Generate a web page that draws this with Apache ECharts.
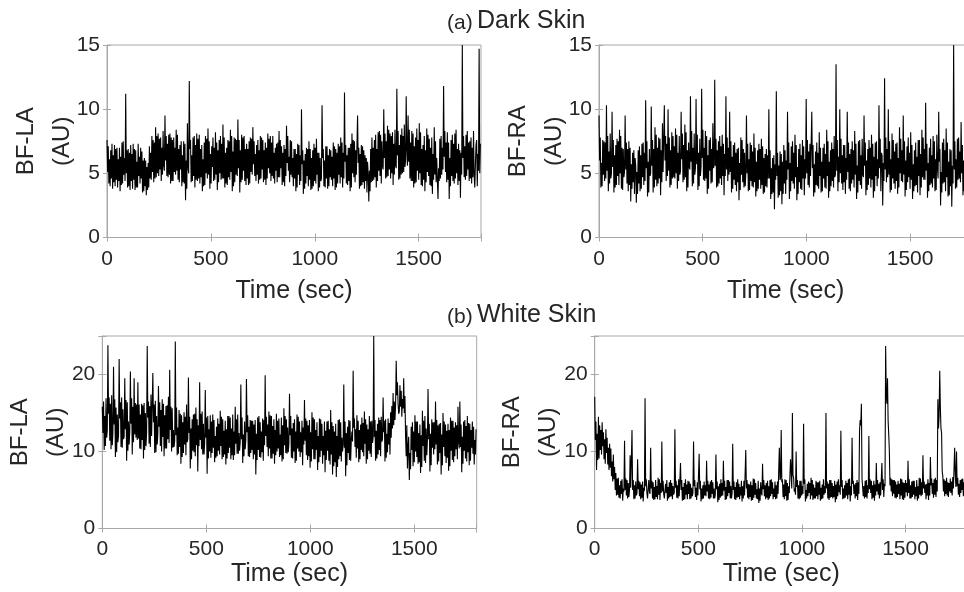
<!DOCTYPE html>
<html><head><meta charset="utf-8">
<script src="https://cdn.jsdelivr.net/npm/echarts@6/dist/echarts.min.js"></script>
<style>html,body{margin:0;padding:0;background:#fff;overflow:hidden}#c{width:990px;height:592px}</style>
</head><body><div id="c"></div>
<script>
// Readings at a 3 s spacing, split in three interleaved lists per record:
// "_A" holds t = 0, 9, 18, ...; "_B" holds t = 3, 12, 21, ...; "_C" holds t = 6, 15, 24, ...
const sampleStep = 9;
const subOffsets = [0, 3, 6];

// (a) Dark skin, BF-LA
const darkLA_A = [
7.6,4.2,6.8,3.8,7.2,4.5,6.1,3.6,7.4,4.9,11.2,3.9,6.6,4.4,7.3,3.7,5.9,4.8,7.0,3.5,
6.2,3.3,5.8,4.6,7.9,4.3,8.6,5.0,7.7,4.4,8.3,9.5,4.8,8.0,4.2,7.6,5.1,8.4,4.5,7.2,
4.0,7.5,2.9,8.9,12.2,4.3,7.8,3.9,8.1,4.6,6.9,3.6,7.4,5.0,8.5,3.8,7.1,4.4,8.2,3.7,
7.6,4.5,8.8,3.9,7.0,4.7,8.4,3.6,7.8,4.9,9.2,3.5,8.0,5.2,6.9,4.6,7.5,5.1,8.6,4.8,
7.2,4.2,7.9,5.3,6.8,4.1,8.1,5.0,7.4,4.6,7.0,4.3,8.3,5.4,6.6,4.0,8.7,5.2,7.6,4.7,
6.9,3.6,7.3,4.1,10.0,3.4,6.5,4.8,7.5,3.7,6.8,4.4,7.7,3.6,6.2,10.3,4.0,7.1,3.8,6.9,
4.5,7.4,3.7,6.6,4.9,7.8,3.9,11.3,4.2,7.0,3.6,8.1,4.7,6.8,9.5,3.8,7.2,4.3,6.4,3.5,
2.8,6.9,4.4,7.6,3.9,8.2,4.8,7.5,10.0,4.6,8.7,5.3,7.9,4.1,8.4,11.6,4.5,8.0,5.0,8.8,
11.0,9.5,4.6,8.3,3.9,7.8,5.2,8.9,4.1,7.2,3.6,8.5,4.8,7.0,3.4,8.6,4.3,3.0,7.7,4.9,
11.8,5.1,8.2,3.0,7.6,4.4,8.1,5.0,7.3,3.1,15.0,4.7,8.0,5.3,7.5,4.2,8.3,5.6,4.0,14.7
];
const darkLA_B = [
5.1,6.1,4.6,6.4,4.0,7.0,4.4,6.3,4.2,6.2,5.0,6.9,3.7,6.5,4.5,6.8,3.9,6.3,4.6,6.0,
4.0,5.5,3.9,6.6,5.1,7.4,4.7,8.1,5.3,7.0,5.6,6.0,7.3,4.9,7.8,4.4,7.0,5.2,6.9,5.3,
6.4,4.2,6.0,5.5,6.9,6.4,4.8,7.2,4.4,8.0,4.7,6.1,4.1,7.7,4.9,6.5,5.5,7.0,4.9,6.8,
5.0,7.3,4.6,6.6,4.1,7.5,5.1,6.7,4.3,7.6,5.4,6.8,4.5,7.9,4.1,6.9,4.2,7.7,5.7,6.5,
4.9,6.8,4.6,7.6,4.5,7.0,5.4,7.9,4.8,6.6,5.2,7.4,4.7,7.1,4.3,6.9,5.8,6.3,4.9,6.2,
4.6,6.5,4.9,6.4,5.7,6.0,4.2,6.9,4.5,6.2,4.0,7.0,4.9,6.6,4.4,6.2,6.0,4.6,6.4,4.7,
6.3,4.6,6.9,4.2,7.1,4.7,6.6,5.9,6.4,4.4,7.3,5.0,7.5,4.9,5.8,6.5,4.1,6.8,4.4,5.9,
5.2,4.3,7.0,4.7,6.9,5.2,8.0,5.6,6.2,7.5,4.8,8.1,5.0,7.3,5.6,6.4,7.2,4.9,7.9,5.5,
6.8,5.9,7.4,4.4,7.1,4.3,7.6,5.0,6.9,4.5,6.8,5.1,7.7,4.0,6.5,4.9,6.2,5.4,4.6,7.0,
6.3,7.4,4.5,6.2,4.8,7.3,4.6,6.9,4.4,6.6,6.2,7.1,4.8,7.4,4.6,7.0,4.9,7.2,6.5,5.0
];
const darkLA_C = [
7.1,4.0,7.3,4.3,6.9,3.9,7.0,4.1,7.5,4.4,6.8,4.0,7.2,3.8,6.9,3.9,7.3,4.2,6.7,3.6,
6.0,3.7,7.1,4.5,7.6,4.6,7.9,4.8,7.8,4.9,5.2,7.9,4.7,8.1,4.4,7.8,4.9,8.0,4.3,7.5,
4.3,7.3,3.8,5.0,7.6,4.4,7.9,4.5,7.7,4.2,7.2,4.0,7.9,4.6,7.5,4.2,7.8,4.5,7.4,4.3,
7.9,4.6,7.8,4.2,7.6,4.5,7.9,4.0,7.7,4.8,7.6,4.3,7.8,4.4,7.3,4.1,7.8,4.9,7.5,4.4,
7.6,4.5,7.8,4.3,7.4,4.6,7.7,4.4,7.9,4.2,7.3,4.7,7.6,4.1,7.2,4.8,7.9,4.3,7.5,4.0,
6.9,3.9,7.2,4.4,6.8,3.8,7.0,4.0,6.9,3.8,7.3,4.2,6.6,3.9,4.6,6.9,3.9,7.1,4.0,6.8,
4.0,7.1,3.9,7.3,4.2,7.4,4.6,7.2,4.1,7.0,3.9,7.6,4.3,5.0,7.0,4.0,7.1,3.8,6.2,5.0,
3.6,7.8,4.5,8.0,4.4,8.3,4.2,5.3,8.1,4.7,8.4,4.6,8.2,4.9,5.4,8.3,4.6,8.5,5.1,6.0,
5.6,8.4,4.4,8.1,4.2,8.5,4.5,8.2,4.0,7.9,4.3,8.0,4.1,7.8,4.5,7.5,6.3,4.4,7.9,5.3,
8.3,4.3,7.4,4.0,8.0,4.2,8.4,4.1,6.8,4.9,7.9,4.5,8.3,4.4,7.8,4.7,3.9,7.6,5.2,7.3
];

// (a) Dark skin, BF-RA
const darkRA_A = [
9.5,3.9,7.6,4.4,10.3,3.6,8.1,9.8,3.5,7.2,4.8,8.4,3.8,6.9,9.5,4.2,7.5,2.8,6.6,3.4,
2.7,6.8,3.6,7.3,4.1,10.7,3.2,6.9,10.2,3.5,8.6,4.0,7.8,3.3,8.9,10.3,4.4,10.0,3.9,8.2,
4.7,8.5,3.8,7.9,9.8,4.3,8.8,3.6,7.4,11.0,4.0,8.1,10.8,3.7,7.7,11.6,4.5,8.3,3.4,7.6,
4.2,8.9,12.3,3.9,7.5,4.6,8.0,3.3,11.0,4.4,9.8,3.5,7.2,4.1,6.9,2.9,7.8,4.3,6.6,9.5,
3.6,7.4,4.0,8.1,3.2,6.8,4.5,7.7,3.4,6.5,3.9,10.0,3.0,6.2,2.2,11.4,3.1,6.7,2.6,7.2,
3.4,9.8,3.0,7.1,4.2,8.0,2.9,6.9,3.8,7.6,3.3,10.8,4.1,7.3,9.8,3.2,6.7,4.0,8.2,3.5,
7.0,3.9,8.4,3.1,6.8,4.4,7.9,13.5,3.6,10.0,4.2,7.2,3.4,9.8,3.8,6.9,4.5,8.3,3.0,7.5,
4.1,7.7,9.5,3.3,6.9,4.6,8.0,3.1,7.4,4.0,10.3,3.6,2.5,12.4,4.3,10.0,3.5,8.1,4.2,7.3,
3.4,8.6,4.4,9.5,3.2,7.1,4.7,8.2,3.0,6.8,4.1,7.6,3.3,8.4,4.5,10.5,3.1,7.0,4.2,7.9,
3.6,8.0,9.8,2.5,7.4,4.3,8.5,3.2,6.9,2.4,15.0,3.8,7.7,4.6,9.0,3.3,7.6,4.4,8.1,3.7
];
const darkRA_B = [
6.0,5.8,4.9,7.4,5.2,6.7,4.6,5.5,6.4,4.1,7.5,5.0,7.0,4.7,5.3,6.9,4.1,5.7,4.3,6.2,
5.1,4.2,6.4,4.7,6.6,5.4,5.9,4.8,5.6,6.9,4.5,7.0,4.6,6.8,5.1,6.0,7.3,5.2,6.8,4.6,
7.1,5.0,6.6,4.9,6.1,7.2,4.7,6.8,5.5,5.9,7.0,4.9,5.7,6.6,4.8,6.2,7.0,4.6,6.4,5.2,
6.9,5.4,5.6,6.8,4.2,7.1,4.8,6.5,5.3,7.0,5.1,6.3,4.5,6.6,4.3,5.8,4.9,6.9,4.0,5.0,
6.1,4.4,6.7,4.3,5.9,3.8,6.9,4.1,6.2,4.0,6.4,4.6,5.4,3.5,5.7,4.8,5.6,3.6,5.9,4.2,
6.0,5.3,5.8,4.4,6.6,4.7,5.5,4.3,6.4,4.6,6.1,5.0,6.7,4.8,5.4,5.7,4.1,6.6,4.8,5.9,
4.6,6.5,4.8,5.9,4.0,6.9,4.7,5.2,6.3,5.0,6.4,4.3,6.2,5.1,6.5,4.2,6.8,4.9,5.6,4.4,
6.4,4.9,5.6,6.0,4.1,7.0,4.5,6.3,4.8,6.1,5.4,6.6,5.8,5.3,6.9,4.9,6.1,4.6,6.7,4.4,
6.2,5.0,6.8,4.9,6.0,4.3,6.6,4.5,5.7,4.0,6.3,4.8,6.5,4.7,6.9,5.2,5.8,4.1,6.4,4.6,
6.1,5.4,5.9,5.1,4.2,6.8,4.7,5.9,4.0,5.6,5.3,6.1,4.5,6.7,5.0,6.0,4.6,6.5,4.9,6.2
];
const darkRA_C = [
7.8,4.0,7.5,4.6,7.9,4.2,5.0,7.6,3.9,7.7,4.1,7.9,3.7,5.1,7.4,3.6,7.0,3.8,6.8,5.6,
3.4,7.1,3.8,7.4,4.4,7.5,3.5,5.0,7.6,3.9,8.0,4.2,7.7,4.3,5.1,7.9,4.8,7.8,4.1,7.9,
4.6,8.0,4.4,5.2,8.1,4.5,8.2,3.9,5.3,8.3,4.2,5.4,8.0,4.0,5.5,8.4,4.4,7.9,3.8,7.8,
4.3,5.6,7.7,4.0,7.9,4.1,7.3,4.8,7.8,4.9,7.5,3.8,7.4,3.6,7.0,3.7,7.6,3.9,5.0,7.3,
3.7,7.2,3.9,7.0,3.6,7.3,3.8,7.1,3.5,6.9,4.6,6.8,3.4,6.4,4.5,6.6,3.3,6.5,3.4,6.8,
4.5,7.4,3.6,7.5,3.8,7.2,3.4,7.3,3.7,7.1,4.6,7.6,3.9,4.8,7.2,3.5,7.4,3.8,7.0,3.6,
7.3,3.8,7.5,3.6,7.4,3.9,4.9,7.6,4.3,7.7,3.7,7.2,4.5,7.4,3.6,7.5,3.9,7.3,3.5,7.6,
3.8,4.7,7.4,3.7,7.6,3.9,7.3,3.6,7.5,4.6,7.7,6.4,4.4,7.8,4.7,7.5,3.7,7.6,3.8,7.4,
3.9,7.7,4.3,7.5,3.7,7.8,3.8,7.2,3.6,7.4,3.5,7.6,3.9,7.8,4.5,7.3,3.6,7.7,3.9,7.5,
3.7,4.6,6.9,3.5,7.7,3.6,7.4,3.3,6.8,4.2,7.5,3.9,7.8,4.3,7.2,3.6,7.9,3.8,7.1,3.9
];

// (b) White skin, BF-LA
const whiteLA_A = [
15.8,10.2,16.9,23.8,11.4,17.3,21.0,9.3,14.8,22.0,10.6,15.5,19.5,8.8,13.9,20.4,9.6,19.5,11.8,19.0,
10.4,16.2,9.1,15.0,23.7,11.0,17.4,20.2,9.8,14.6,18.5,10.7,16.8,9.4,15.9,11.6,20.6,10.0,12.8,24.3,
9.5,15.4,8.4,13.8,10.9,16.1,19.6,7.8,14.2,9.9,15.7,7.4,19.0,10.3,13.6,18.0,7.1,12.9,9.2,14.8,
8.6,13.2,10.1,15.3,9.0,12.7,8.3,14.6,10.5,13.0,8.9,15.8,9.7,12.4,18.7,8.5,13.9,19.4,9.4,14.1,
10.2,13.5,7.0,14.4,9.3,12.6,8.8,19.9,10.6,15.2,9.1,13.3,8.4,14.9,10.4,12.2,8.7,15.6,9.8,13.1,
17.5,9.2,13.7,8.5,14.8,10.0,12.5,8.2,16.7,9.5,13.4,7.9,15.1,9.0,12.8,7.6,14.3,10.1,12.0,7.3,
13.9,8.8,15.4,7.0,12.6,6.7,14.1,9.4,11.8,18.7,6.8,13.2,8.9,11.4,20.5,10.6,14.7,8.6,13.5,9.9,
15.2,8.4,12.9,9.7,14.0,25.0,8.8,13.6,10.2,14.5,17.0,8.7,12.3,10.9,15.1,13.0,16.5,21.8,16.2,18.6,
14.5,19.5,12.0,7.8,6.3,13.2,8.1,14.7,9.3,12.4,7.2,15.3,8.8,13.0,18.1,7.4,14.2,9.6,16.5,8.3,
13.6,7.0,15.0,9.4,12.7,7.5,14.4,8.9,13.1,10.3,15.8,16.5,7.3,13.9,9.1,14.6,8.2,12.8,9.7,11.5
];
const whiteLA_B = [
12.4,14.6,11.8,14.9,16.2,10.8,13.5,15.7,11.2,14.3,17.0,11.6,12.9,16.4,10.9,13.6,15.8,12.2,16.1,11.7,
14.8,11.5,16.3,10.7,14.4,15.9,12.0,13.8,16.6,10.9,13.2,15.4,11.9,14.7,10.4,17.1,12.8,15.6,10.6,12.1,
13.1,10.6,14.7,9.8,14.5,11.2,12.4,13.0,10.1,14.9,10.8,13.4,11.5,15.2,9.6,11.8,14.6,10.0,13.9,10.5,
12.0,9.4,13.6,10.7,14.2,9.6,12.9,9.8,14.4,9.5,12.6,11.0,14.8,10.1,11.6,12.2,10.3,12.5,13.2,9.8,
14.0,9.6,12.3,10.2,13.8,9.9,14.1,12.0,13.5,10.4,14.6,9.7,12.8,10.0,14.3,9.5,13.4,10.8,14.2,9.9,
12.1,13.0,10.0,12.6,10.4,13.9,9.9,13.1,11.4,14.0,9.4,12.5,10.3,14.2,10.2,12.0,9.3,13.6,9.5,12.7,
10.1,12.9,9.6,13.3,8.6,12.0,9.0,13.8,10.0,10.5,12.4,9.8,14.0,12.6,13.1,12.9,10.4,12.8,10.2,13.7,
11.0,13.5,10.1,13.9,11.1,11.9,12.7,9.6,14.1,11.3,12.5,14.2,9.9,13.7,11.8,17.6,14.1,17.3,14.9,15.8,
16.8,15.0,9.4,10.6,9.8,10.2,12.6,10.0,13.9,8.6,12.1,10.7,14.6,9.5,11.6,12.3,10.5,13.8,10.9,13.4,
9.8,12.2,10.6,13.5,9.2,12.8,10.1,14.0,9.4,13.4,11.2,10.6,11.9,10.1,13.3,9.9,13.6,10.5,13.2,9.6
];
const whiteLA_C = [
16.5,10.7,12.8,17.0,10.3,12.5,16.8,9.9,12.1,16.4,10.5,11.9,16.7,10.1,12.6,16.9,11.2,16.3,11.5,16.1,
10.3,16.0,10.2,12.4,16.5,10.6,12.2,16.1,9.9,12.3,16.4,10.0,16.2,10.4,16.0,11.1,15.8,10.5,11.4,15.7,
9.7,14.9,9.3,15.1,9.5,11.6,14.5,9.0,14.8,9.4,14.2,10.7,14.9,9.6,11.0,14.4,9.1,14.7,9.8,14.1,
9.2,14.3,9.6,14.5,9.3,14.0,9.1,14.6,9.0,14.8,9.5,14.2,9.7,11.2,14.4,9.4,11.5,14.7,9.3,14.0,
9.0,14.1,8.9,14.6,9.2,14.3,10.8,14.5,9.4,14.7,9.1,14.2,9.5,14.0,9.3,14.4,9.0,14.6,9.7,11.0,
14.6,9.1,14.2,8.8,14.5,9.3,14.0,10.9,14.3,8.9,14.1,8.7,14.4,9.0,13.8,8.6,14.2,8.4,13.9,8.9,
14.0,8.3,13.8,8.1,13.6,8.0,14.2,8.7,10.9,13.9,8.2,14.1,8.8,11.3,14.3,9.2,14.0,9.0,14.4,9.4,
14.2,9.0,14.6,9.3,11.8,14.1,9.1,14.4,9.4,11.6,14.0,9.2,14.3,9.6,15.9,13.4,16.0,19.0,15.2,17.9,
15.6,17.2,13.4,11.9,7.7,13.8,8.6,13.9,8.4,13.5,8.0,14.0,8.5,11.4,13.6,8.2,13.8,10.3,14.1,8.7,
13.7,8.2,13.9,8.5,13.6,8.1,14.0,8.6,13.8,9.0,10.4,13.5,8.4,14.1,8.7,13.7,8.8,13.9,8.3,12.9
];

// (b) White skin, BF-RA
const whiteRA_A = [
17.1,7.6,14.5,10.2,13.8,9.0,12.9,8.3,11.0,6.8,9.6,5.0,6.5,4.0,6.2,3.6,11.4,4.3,5.9,9.5,
12.8,3.8,6.1,9.0,4.2,5.7,3.5,16.9,4.6,6.3,10.5,3.9,5.4,4.1,6.6,3.7,11.3,4.5,5.8,3.6,
6.0,4.2,5.5,12.9,4.0,6.4,8.5,3.6,5.9,4.4,6.2,3.8,5.3,11.3,4.1,6.0,9.7,3.5,5.6,4.3,
8.8,3.9,6.1,4.5,5.2,9.6,3.4,5.8,4.2,8.8,3.7,6.3,4.6,5.5,11.0,3.8,6.0,4.1,5.4,3.5,
6.2,10.2,4.0,5.7,3.6,6.5,4.4,5.1,3.3,6.0,8.4,4.2,5.9,3.7,6.3,4.5,5.2,3.8,6.1,10.5,
12.8,4.1,6.4,3.6,5.5,9.0,15.0,4.8,10.0,3.9,6.2,4.3,13.6,3.5,5.8,4.6,6.6,3.7,5.3,4.2,
6.0,3.6,5.7,4.4,15.0,3.9,6.3,4.1,5.5,3.4,6.1,4.7,12.7,3.8,5.6,4.3,6.4,3.5,11.8,4.5,
5.9,3.7,12.7,16.2,4.2,6.2,3.9,12.0,4.6,5.6,3.6,8.5,4.4,6.0,8.5,4.1,23.7,19.5,10.0,4.8,
6.3,4.0,5.7,4.5,6.5,3.8,5.9,4.7,8.8,3.9,6.1,4.4,5.4,3.6,6.6,4.2,9.5,4.6,5.8,3.7,
9.3,4.5,6.4,4.1,16.8,20.5,12.4,4.8,6.2,4.3,5.9,4.6,6.7,10.5,10.0,4.4,6.3,5.0,6.0,4.7
];
const whiteRA_B = [
11.5,12.3,9.1,12.8,10.7,11.6,9.8,10.5,7.9,8.7,6.4,7.2,4.4,5.6,4.5,5.2,5.0,6.3,4.1,5.3,
5.0,5.6,4.3,5.1,6.0,4.0,5.3,5.5,3.9,4.8,5.2,6.0,3.8,5.5,4.4,5.9,4.8,3.9,4.6,5.4,
4.1,5.9,4.4,5.3,5.6,4.2,5.0,5.4,3.8,5.7,4.5,5.8,4.2,5.5,5.3,4.3,5.1,5.2,3.9,5.6,
4.8,5.7,4.0,6.0,3.9,5.1,5.5,4.0,5.9,4.9,5.4,4.2,6.1,3.9,5.0,5.4,4.0,5.8,4.3,5.5,
4.3,5.2,5.8,4.1,5.6,4.0,5.9,3.8,5.2,4.6,5.1,5.6,4.0,5.5,4.2,6.0,4.1,5.6,4.5,6.3,
6.0,5.7,4.2,5.9,4.6,7.4,6.9,5.2,5.4,5.6,4.0,5.5,5.8,5.0,4.2,5.9,4.3,5.7,3.9,6.0,
4.4,5.3,3.9,5.5,5.2,5.8,4.0,5.9,4.1,5.7,4.2,5.6,5.4,5.2,4.0,5.9,4.4,5.5,5.8,5.7,
4.2,6.0,14.1,6.5,5.5,4.1,5.6,5.1,6.2,4.0,5.7,4.8,5.8,4.3,5.0,5.8,17.4,14.0,5.6,6.4,
4.5,6.1,4.1,5.8,4.3,6.0,4.0,5.9,4.6,5.6,4.1,6.2,4.2,5.5,4.4,6.0,5.2,5.7,4.3,5.9,
5.6,5.9,4.4,6.3,13.0,15.8,7.4,6.4,4.5,6.0,4.8,6.1,5.2,7.0,5.5,5.8,4.6,6.5,4.9,6.2
];
const whiteRA_C = [
13.9,8.9,13.4,9.6,12.5,8.4,11.8,7.6,10.4,6.1,8.0,4.3,6.6,3.9,6.4,4.8,6.5,3.9,5.0,5.3,
6.3,3.9,4.6,6.2,3.8,6.1,4.9,6.4,3.9,4.5,6.2,3.7,6.3,3.8,6.4,4.6,6.2,3.7,6.3,3.9,
6.3,3.8,4.7,6.2,3.9,4.4,6.3,3.7,6.4,3.8,6.1,3.9,4.6,6.3,3.7,4.5,6.2,3.8,6.1,4.2,
6.2,3.8,6.3,3.9,4.4,6.1,3.7,6.4,4.3,6.2,3.8,6.3,3.9,4.6,6.1,3.7,6.4,3.8,6.2,3.9,
4.4,6.3,3.8,6.1,3.7,6.4,3.9,6.2,3.6,4.3,6.3,3.8,6.2,3.9,6.4,3.8,6.1,3.9,4.7,6.6,
6.4,3.8,6.3,3.7,4.5,5.2,6.6,4.4,6.3,3.8,6.2,4.5,6.4,3.9,6.1,3.8,6.3,3.9,6.2,3.8,
6.2,3.8,6.4,4.6,6.1,3.7,6.3,3.9,6.2,3.8,6.4,4.4,6.3,3.9,6.2,3.8,6.5,4.3,6.2,3.9,
6.3,4.5,13.4,6.7,3.9,6.3,4.6,6.4,3.8,6.2,4.3,6.3,3.9,4.4,6.4,5.5,16.2,12.2,6.6,4.2,
6.3,3.9,6.2,3.8,6.4,3.7,6.3,4.2,6.4,3.9,6.2,3.8,6.3,3.9,6.5,4.4,6.1,3.8,6.4,4.3,
6.5,4.0,6.6,4.8,14.6,13.0,6.8,4.2,6.6,4.1,6.5,4.3,5.0,5.4,6.6,4.1,6.4,4.2,6.5,4.4
];

const xTicks = [0, 500, 1000, 1500];
const xMax = 1800;
const yTicksDark = [0, 5, 10, 15];
const yTicksWhite = [0, 10, 20];
const yMaxWhite = 25;
const titleA = ['(a)', 'Dark Skin'];
const titleB = ['(b)', 'White Skin'];
const xName = 'Time (sec)';

const panels = [
  {lists: [darkLA_A, darkLA_B, darkLA_C],    yName: 'BF-LA\n(AU)', ticks: yTicksDark,  yMax: 15,        grid: {left: 107, top: 45,  width: 374, height: 192.5}, xGap: 41, lblGap: 11, yGap: 27},
  {lists: [darkRA_A, darkRA_B, darkRA_C],    yName: 'BF-RA\n(AU)', ticks: yTicksDark,  yMax: 15,        grid: {left: 599, top: 45,  width: 373.3, height: 192.5}, xGap: 41, lblGap: 11, yGap: 27},
  {lists: [whiteLA_A, whiteLA_B, whiteLA_C], yName: 'BF-LA\n(AU)', ticks: yTicksWhite, yMax: yMaxWhite, grid: {left: 102.3, top: 336, width: 374.4, height: 192.5}, xGap: 33, lblGap: 10, yGap: 28},
  {lists: [whiteRA_A, whiteRA_B, whiteRA_C], yName: 'BF-RA\n(AU)', ticks: yTicksWhite, yMax: yMaxWhite, grid: {left: 594.7, top: 336, width: 373, height: 192.5}, xGap: 33, lblGap: 10, yGap: 28}
];

const FONT = '"Liberation Sans", Arial, sans-serif';
const TXT = '#262626';
const AX = '#a8a8a8';

const grids = [], xAxes = [], yAxes = [], series = [];
panels.forEach((p) => {
  grids.push(Object.assign({show: true, borderColor: AX, borderWidth: 1, containLabel: false}, p.grid));
});
panels.forEach((p, i) => {
  const xStep = xTicks[1] - xTicks[0];
  const yStep = p.ticks[1] - p.ticks[0];
  xAxes.push({
    type: 'value', gridIndex: i, min: xTicks[0], max: xMax, interval: xStep,
    name: xName, nameLocation: 'middle', nameGap: p.xGap, nameMoveOverlap: false,
    nameTextStyle: {fontFamily: FONT, fontSize: 25, color: TXT},
    axisLine: {show: true, lineStyle: {color: AX, width: 1}},
    axisTick: {show: true, inside: true, length: 4, lineStyle: {color: AX}},
    axisLabel: {fontFamily: FONT, fontSize: 21, color: TXT, margin: p.lblGap,
      formatter: v => xTicks.indexOf(v) >= 0 ? String(v) : ''},
    splitLine: {show: false}
  });
  yAxes.push({
    type: 'value', gridIndex: i, min: p.ticks[0], max: p.yMax, interval: yStep,
    name: p.yName, nameLocation: 'middle', nameGap: p.yGap, nameRotate: 90, nameMoveOverlap: false,
    nameTextStyle: {fontFamily: FONT, fontSize: 24, color: TXT, lineHeight: 36},
    axisLine: {show: true, lineStyle: {color: AX, width: 1}},
    axisTick: {show: true, inside: true, length: 4, lineStyle: {color: AX}},
    axisLabel: {fontFamily: FONT, fontSize: 21, color: TXT, margin: 7,
      formatter: v => p.ticks.indexOf(v) >= 0 ? String(v) : ''},
    splitLine: {show: false}
  });
  const pts = [];
  p.lists[0].forEach((v, k) => {
    p.lists.forEach((lst, j) => pts.push([k * sampleStep + subOffsets[j], lst[k]]));
  });
  series.push({
    type: 'line', xAxisIndex: i, yAxisIndex: i, data: pts,
    showSymbol: false, symbol: 'none', lineStyle: {color: '#000', width: 1.1},
    animation: false, silent: true, clip: true
  });
});
// mirrored ticks on top / right (box style)
panels.forEach((p, i) => {
  const xStep = xTicks[1] - xTicks[0];
  const yStep = p.ticks[1] - p.ticks[0];
  xAxes.push({type: 'value', gridIndex: i, position: 'top', min: xTicks[0], max: xMax, interval: xStep,
    axisLine: {show: false}, axisLabel: {show: false}, splitLine: {show: false},
    axisTick: {show: true, inside: true, length: 4, lineStyle: {color: AX}}});
  yAxes.push({type: 'value', gridIndex: i, position: 'right', min: p.ticks[0], max: p.yMax, interval: yStep,
    axisLine: {show: false}, axisLabel: {show: false}, splitLine: {show: false},
    axisTick: {show: true, inside: true, length: 4, lineStyle: {color: AX}}});
});

const titleText = (parts, y) => [
  {type: 'text', left: 447, top: y + 1, style: {text: parts[0], font: '21px ' + FONT, fill: TXT}},
  {type: 'text', left: 477, top: y - 3, style: {text: parts[1], font: '25px ' + FONT, fill: TXT}}
];

const chart = echarts.init(document.getElementById('c'), null, {renderer: 'canvas'});
chart.setOption({
  animation: false,
  backgroundColor: '#fff',
  grid: grids, xAxis: xAxes, yAxis: yAxes, series: series,
  graphic: titleText(titleA, 12).concat(titleText(titleB, 306))
});
</script></body></html>
